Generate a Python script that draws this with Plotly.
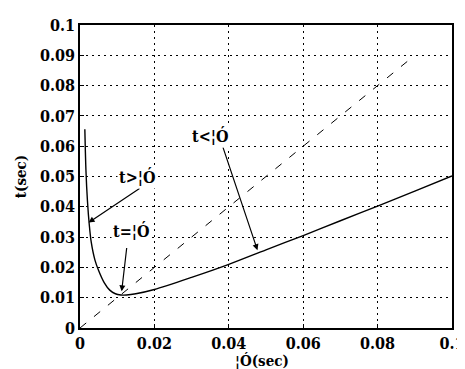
import plotly.graph_objects as go

# solid curve t(tau)
tau = [0.0013, 0.0016, 0.0020, 0.0025, 0.0030, 0.0040, 0.0050, 0.0065, 0.0080,
       0.0095, 0.0110, 0.0125, 0.015, 0.020, 0.030, 0.040, 0.050, 0.060,
       0.070, 0.080, 0.090, 0.100]
t_vals = [0.0656, 0.052, 0.042, 0.034, 0.0285, 0.0225, 0.0190, 0.0150, 0.0125,
          0.0113, 0.0109, 0.0109, 0.0113, 0.0127, 0.0167, 0.0210, 0.0258, 0.0305,
          0.0354, 0.0402, 0.0452, 0.0502]

# dashed reference line t = tau
ref_tau = [0.0, 0.09]
ref_t = [0.0, 0.09]

# annotations: label, text position, arrow tail, arrow tip
labels = ["t>¦Ó", "t=¦Ó", "t<¦Ó"]
label_x = [0.0152, 0.0138, 0.0350]
label_y = [0.0498, 0.0320, 0.0634]
tail_x = [0.0164, 0.0126, 0.0383]
tail_y = [0.0464, 0.0269, 0.0601]
tip_x = [0.0023, 0.0112, 0.0477]
tip_y = [0.0348, 0.0121, 0.0257]

x_ticks = [0, 0.02, 0.04, 0.06, 0.08, 0.1]
y_ticks = [0, 0.01, 0.02, 0.03, 0.04, 0.05, 0.06, 0.07, 0.08, 0.09, 0.1]
x_title = "¦Ó(sec)"
y_title = "t(sec)"

font_family = "DejaVu Serif Condensed, DejaVu Serif, serif"

def f(size, weight="bold"):
    return dict(family=font_family, size=size, color="black", weight=weight)

fig = go.Figure()
fig.add_trace(go.Scatter(x=ref_tau, y=ref_t, mode="lines",
                         line=dict(color="black", width=1, dash="8px,10px"),
                         showlegend=False))
fig.add_trace(go.Scatter(x=tau, y=t_vals, mode="lines",
                         line=dict(color="black", width=1.4, shape="spline", smoothing=0.8),
                         showlegend=False))

for lab, lx, ly, ax_, ay_, px, py in zip(labels, label_x, label_y, tail_x, tail_y, tip_x, tip_y):
    fig.add_annotation(x=px, y=py, ax=ax_, ay=ay_, xref="x", yref="y",
                       axref="x", ayref="y", text="", showarrow=True,
                       arrowhead=2, arrowsize=1, arrowwidth=1.2, arrowcolor="black")
    fig.add_annotation(x=lx, y=ly, xref="x", yref="y", text=lab, showarrow=False,
                       font=f(16), bgcolor="white")

# x axis title placed below tick labels
fig.add_annotation(x=0.49, y=-0.108, xref="paper", yref="paper", text=x_title,
                   showarrow=False, font=f(15), xanchor="center", yanchor="middle")

axis_common = dict(showgrid=True, gridcolor="black", griddash="2px,4px", gridwidth=1.2,
                   showline=True, mirror=True, linecolor="black", linewidth=1.5,
                   zeroline=False, ticks="inside", ticklen=4, tickcolor="black",
                   tickfont=f(16), ticklabeloverflow="allow")

fig.update_xaxes(range=[0, 0.1], tickvals=x_ticks, ticktext=[str(v) for v in x_ticks],
                 **axis_common)
fig.update_yaxes(range=[0, 0.1], tickvals=y_ticks, ticktext=[str(v) for v in y_ticks],
                 title=dict(text=y_title, font=f(15), standoff=10),
                 **axis_common)

fig.update_layout(width=465, height=369, plot_bgcolor="white", paper_bgcolor="white",
                  margin=dict(l=72, r=8, t=15, b=49),
                  font=dict(family=font_family, color="black"))

fig.write_html("out.html")
